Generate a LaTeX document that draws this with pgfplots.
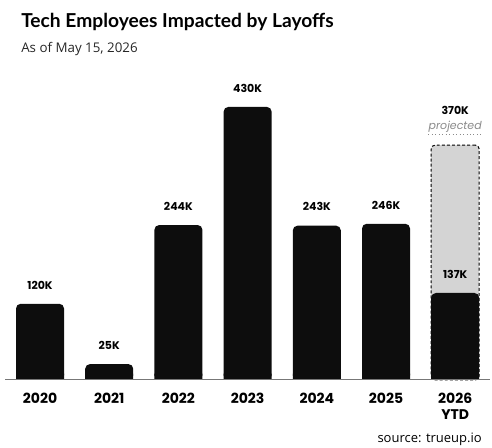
\documentclass[border=0pt]{standalone}
\usepackage{pgfplots}
\pgfplotsset{compat=1.18}
\usepackage{fontspec}
\setmainfont{Open Sans}
\newfontfamily\titlefont{Lato}
\newfontfamily\pop{Poppins}
\definecolor{barblack}{HTML}{0D0D0D}
\definecolor{projgray}{HTML}{D4D4D4}
\definecolor{axisgray}{HTML}{777777}
\definecolor{projtext}{HTML}{8A8A8A}
\begin{document}
\begin{tikzpicture}[x=0.75pt,y=0.75pt]
\path[use as bounding box] (0,0) rectangle (492,448);
\node[anchor=base west, inner sep=0, font=\titlefont\bfseries\fontsize{14.4}{17}\selectfont] at (21,420) {Tech Employees Impacted by Layoffs};
\node[anchor=base west, inner sep=0, font=\fontsize{10}{12}\selectfont, text=black!85] at (21,395) {As of May 15, 2026};
\node[anchor=base east, inner sep=0, font=\fontsize{9.75}{12}\selectfont] at (482,5) {source: trueup.io};
\begin{axis}[
  at={(3.75pt,51pt)}, anchor=south west,
  scale only axis, width=363.75pt, height=238.125pt,
  xmin=-0.506, xmax=6.503, ymin=0, ymax=500,
  clip=false,
  ybar, bar width=36pt,
  axis line style={draw=none},
  ytick=\empty,
  xtick={0,1,2,3,4,5,6},
  xticklabels={2020,2021,2022,2023,2024,2025,{2026\\YTD}},
  xtick style={draw=none},
  major tick length=0pt,
  xticklabel style={align=center, font=\pop\bfseries\fontsize{10.5}{12.5}\selectfont, yshift=-6pt},
  /pgf/number format/assume math mode=true,
  every node near coord/.append style={font=\pop\bfseries\fontsize{8.25}{10}\selectfont, yshift=7.5pt},
]
% projected bar
\addplot[fill=projgray, draw=black, line width=0.75pt, dash pattern=on 2.2pt off 1.6pt, bar shift=0pt, rounded corners=3pt]
  coordinates {(6,370)};
% actual bars
\addplot[fill=barblack, draw=none, bar shift=0pt, rounded corners=3.5pt,
  point meta=y, nodes near coords={\pgfmathprintnumber{\pgfplotspointmeta}K}]
  coordinates {(0,120) (1,25) (2,244) (3,430) (4,243) (5,246) (6,137)};
% square off bottom corners
\addplot[fill=barblack, draw=none, bar shift=0pt]
  coordinates {(0,10) (1,10) (2,10) (3,10) (4,10) (5,10) (6,10)};
\draw[axisgray, line width=0.75pt] (axis cs:-0.506,0) -- (axis cs:6.503,0);
\node[font=\pop\bfseries\fontsize{8.25}{10}\selectfont, anchor=base] at ([yshift=23.25pt]axis cs:6,370) {370K};
\node[font=\pop\itshape\fontsize{8.25}{10}\selectfont, text=projtext, anchor=base, inner sep=0pt] (proj) at ([yshift=12pt]axis cs:6,370) {projected};
\draw[projtext, dotted, line width=0.6pt] ([yshift=-1.5pt]proj.south west) -- ([yshift=-1.5pt]proj.south east);
\end{axis}
\end{tikzpicture}
\end{document}
